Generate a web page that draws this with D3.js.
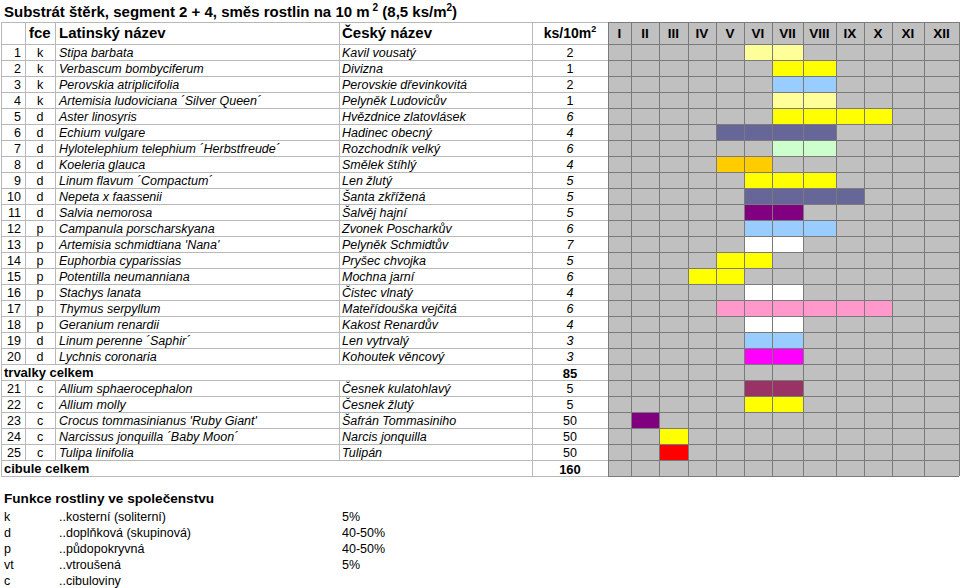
<!DOCTYPE html>
<html><head><meta charset="utf-8">
<script src="https://cdn.jsdelivr.net/npm/d3@7"></script>
<style>body{margin:0;background:#fff}svg{display:block;font-family:Arial,"Liberation Sans",sans-serif}</style>
</head><body>
<script>
// ---------- data ----------
const months = ["I","II","III","IV","V","VI","VII","VIII","IX","X","XI","XII"];
const numbers = d3.range(1, 26);
const fce = ["k","k","k","k","d","d","d","d","d","d","d","p","p","p","p","p","p","p","d","d","c","c","c","c","c"];
const latin = ["Stipa barbata","Verbascum bombyciferum","Perovskia atriplicifolia","Artemisia ludoviciana ´Silver Queen´","Aster linosyris","Echium vulgare","Hylotelephium telephium ´Herbstfreude´","Koeleria glauca","Linum flavum ´Compactum´","Nepeta x faassenii","Salvia nemorosa","Campanula porscharskyana","Artemisia schmidtiana 'Nana'","Euphorbia cyparissias","Potentilla neumanniana","Stachys lanata","Thymus serpyllum","Geranium renardii","Linum perenne ´Saphir´","Lychnis coronaria","Allium sphaerocephalon","Allium molly","Crocus tommasinianus 'Ruby Giant'","Narcissus jonquilla ´Baby Moon´","Tulipa linifolia"];
const czech = ["Kavil vousatý","Divizna","Perovskie dřevinkovitá","Pelyněk Ludovicův","Hvězdnice zlatovlásek","Hadinec obecný","Rozchodník velký","Smělek štíhlý","Len žlutý","Šanta zkřížená","Šalvěj hajní","Zvonek Poscharkův","Pelyněk Schmidtův","Pryšec chvojka","Mochna jarní","Čistec vlnatý","Mateřídouška vejčitá","Kakost Renardův","Len vytrvalý","Kohoutek věncový","Česnek kulatohlavý","Česnek žlutý","Šafrán Tommasiniho","Narcis jonquilla","Tulipán"];
const ks = [2,1,2,1,6,4,6,4,5,5,5,6,7,5,6,4,6,4,3,3,5,5,50,50,50];
const bloomStart = [6,7,7,7,7,5,7,5,6,6,6,6,6,5,4,6,5,6,6,6,6,6,2,3,3];
const bloomEnd   = [7,8,8,8,10,8,8,6,8,9,7,8,7,6,5,7,10,7,7,7,7,7,2,3,3];
const bloomColor = ["#ffff99","#ffff00","#99ccff","#ffff99","#ffff00","#666699","#ccffcc","#ffcc00","#ffff00","#666699","#800080","#99ccff","#ffffff","#ffff00","#ffff00","#ffffff","#ff99cc","#ffffff","#99ccff","#ff00ff","#993366","#ffff00","#800080","#ffff00","#ff0000"];
const totalLabels = ["trvalky celkem","cibule celkem"];
const groupSizes = [20,5];
const legendCodes = ["k","d","p","vt","c"];
const legendText = ["..kosterní (soliterní)","..doplňková (skupinová)","..půdopokryvná","..vtroušená","..cibuloviny"];
const legendShare = ["5%","40-50%","40-50%","5%",""];

// ---------- layout ----------
const W = 960, H = 588;
const svg = d3.select("body").append("svg").attr("width", W).attr("height", H);
const colEdges = {num:1, fce:25, lat:55, cz:339, ks:532, m0:608};
const monthEdges = [608,631,659,688,716,744,772,803,836,864,892,924,959];
const xM = d3.scaleOrdinal(months, monthEdges.slice(0,12));
const wM = d3.scaleOrdinal(months, monthEdges.slice(1).map((e,i)=>e-monthEdges[i]));
const headerTop = 22, headerBottom = 44;

const rows = [];
let k = 0;
groupSizes.forEach((n, g) => {
  for (let i = 0; i < n; i++, k++) rows.push({type:"plant", i:k});
  const s = d3.sum(ks.slice(k - n, k));
  rows.push({type:"total", label: totalLabels[g], value: s});
});
const y = d3.scaleBand().domain(d3.range(rows.length)).range([headerBottom, headerBottom + rows.length*16]);
const tableBottom = y.range()[1];
const RIGHT = 959;

// title
const title = svg.append("text").attr("x", 4).attr("y", 17).attr("font-size", 15).attr("font-weight", "bold").attr("fill","#000");
title.append("tspan").text("Substrát štěrk, segment 2 + 4, směs rostlin na 10 m");
title.append("tspan").attr("dy", -6).attr("font-size", 10).attr("dx", 3).text("2");
title.append("tspan").attr("dy", 6).text(" (8,5 ks/m");
title.append("tspan").attr("dy", -6).attr("font-size", 10).text("2");
title.append("tspan").attr("dy", 6).text(")");

// month area gray background
svg.append("rect").attr("x", colEdges.m0).attr("y", headerTop).attr("width", RIGHT - colEdges.m0).attr("height", tableBottom - headerTop).attr("fill", "#c0c0c0");

// bloom cells
const cells = [];
rows.forEach((r, ri) => {
  if (r.type !== "plant") return;
  for (let m = bloomStart[r.i]; m <= bloomEnd[r.i]; m++) cells.push({ri, m: months[m-1], c: bloomColor[r.i]});
});
svg.append("g").selectAll("rect").data(cells).join("rect")
  .attr("x", d => xM(d.m)).attr("y", d => y(d.ri))
  .attr("width", d => wM(d.m)).attr("height", y.bandwidth())
  .attr("fill", d => d.c);

// grid lines - light (text area)
const gL = svg.append("g").attr("stroke", "#b8b8b8").attr("stroke-width", 1).attr("shape-rendering","crispEdges");
const hLines = [headerTop, headerBottom, ...rows.map((r,i)=>y(i)+16)];
hLines.forEach(yy => gL.append("line").attr("x1", colEdges.num).attr("x2", colEdges.m0).attr("y1", yy+0.5).attr("y2", yy+0.5));
gL.append("line").attr("x1", colEdges.num+0.5).attr("x2", colEdges.num+0.5).attr("y1", headerTop).attr("y2", tableBottom);
[colEdges.fce, colEdges.lat, colEdges.cz].forEach(x => {
  gL.append("line").attr("x1", x+0.5).attr("x2", x+0.5).attr("y1", headerTop).attr("y2", headerBottom);
  rows.forEach((r,i) => { if (r.type === "plant") gL.append("line").attr("x1", x+0.5).attr("x2", x+0.5).attr("y1", y(i)).attr("y2", y(i)+16); });
});
gL.append("line").attr("x1", colEdges.ks+0.5).attr("x2", colEdges.ks+0.5).attr("y1", headerTop).attr("y2", tableBottom);

// grid lines - dark (month area)
const gD = svg.append("g").attr("stroke", "#7a7a7a").attr("stroke-width", 1).attr("shape-rendering","crispEdges");
hLines.forEach(yy => gD.append("line").attr("x1", colEdges.m0).attr("x2", RIGHT).attr("y1", yy+0.5).attr("y2", yy+0.5));
monthEdges.forEach(x => gD.append("line").attr("x1", x+0.5).attr("x2", x+0.5).attr("y1", headerTop).attr("y2", tableBottom));

// header text
const hy = 38;
const hdr = svg.append("g").attr("font-size", 15).attr("font-weight", "bold").attr("fill", "#000");
hdr.append("text").attr("x", 29).attr("y", hy).text("fce");
hdr.append("text").attr("x", 59).attr("y", hy).text("Latinský název");
hdr.append("text").attr("x", 342).attr("y", hy).text("Český název");
const ksH = hdr.append("text").attr("x", 570).attr("y", hy).attr("text-anchor","middle").attr("font-size", 14);
ksH.append("tspan").text("ks/10m");
ksH.append("tspan").attr("dy", -6).attr("font-size", 9).text("2");
hdr.selectAll("text.m").data(months).join("text").attr("class","m")
  .attr("x", d => xM(d) + wM(d)/2).attr("y", hy).attr("text-anchor", "middle").attr("font-size", 13.5).text(d => d);

// body text
const body = svg.append("g").attr("font-size", 12.5).attr("fill", "#000");
rows.forEach((r, ri) => {
  const ty = y(ri) + 12.5;
  if (r.type === "plant") {
    body.append("text").attr("x", 21).attr("y", ty).attr("text-anchor","end").text(numbers[r.i]);
    body.append("text").attr("x", 40).attr("y", ty).attr("text-anchor","middle").text(fce[r.i]);
    body.append("text").attr("x", 59).attr("y", ty).attr("font-style","italic").text(latin[r.i]);
    body.append("text").attr("x", 342).attr("y", ty).attr("font-style","italic").text(czech[r.i]);
    body.append("text").attr("x", 570).attr("y", ty).attr("text-anchor","middle")
      .attr("font-style", (r.i >= 4 && r.i < 20) ? "italic" : "normal").text(ks[r.i]);
  } else {
    body.append("text").attr("x", 4).attr("y", ty).attr("font-weight","bold").attr("font-size", 13).text(r.label);
    body.append("text").attr("x", 570).attr("y", ty + 1).attr("text-anchor","middle").attr("font-weight","bold").attr("font-size", 13).text(r.value);
  }
});

// legend
const lg = svg.append("g").attr("fill", "#000");
lg.append("text").attr("x", 4).attr("y", 503).attr("font-size", 13.6).attr("font-weight","bold").text("Funkce rostliny ve společenstvu");
legendCodes.forEach((c, i) => {
  const ly = 521 + i*16;
  lg.append("text").attr("x", 4).attr("y", ly).attr("font-size", 12.5).text(c);
  lg.append("text").attr("x", 59).attr("y", ly).attr("font-size", 12.5).text(legendText[i]);
  if (legendShare[i]) lg.append("text").attr("x", 342).attr("y", ly).attr("font-size", 12.5).text(legendShare[i]);
});
</script>
</body></html>
